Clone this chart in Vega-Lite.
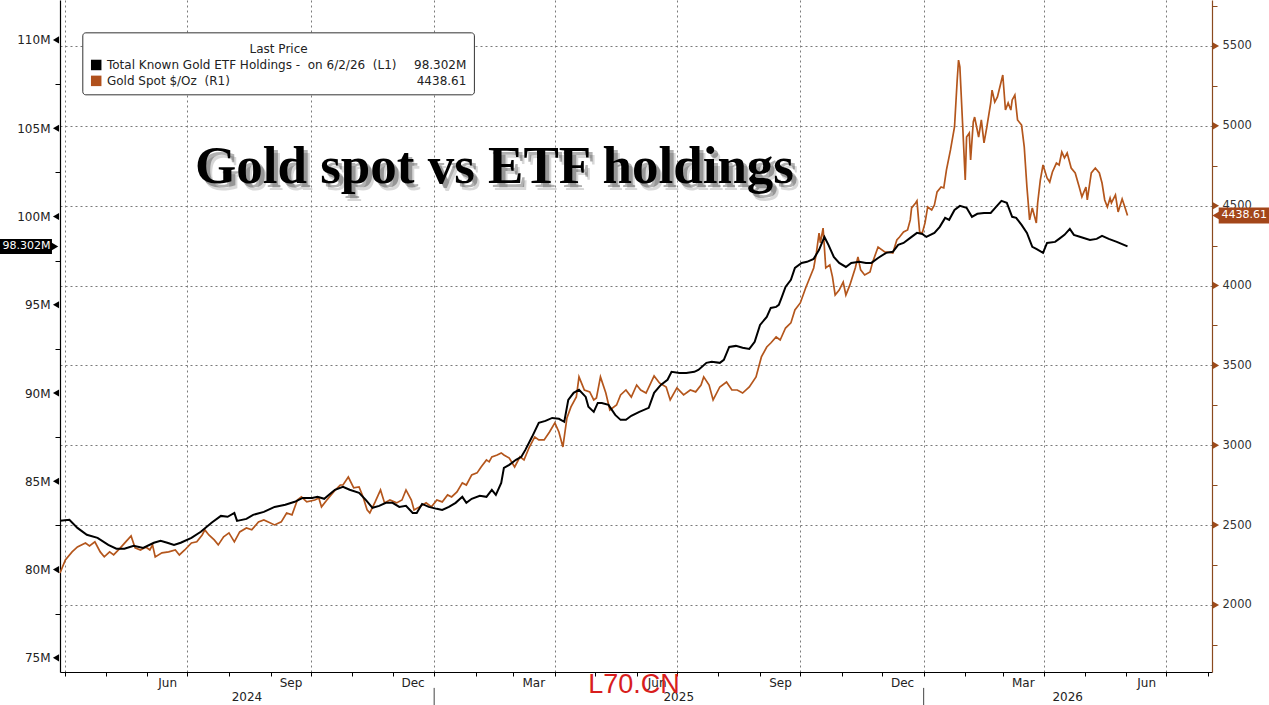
{
  "$schema": "https://vega.github.io/schema/vega-lite/v6.json",
  "width": 1152,
  "height": 672,
  "autosize": {"type": "none"},
  "padding": {"left": 60, "top": 0, "right": 57, "bottom": 33},
  "background": "white",
  "config": {"view": {"stroke": null}, "font": "DejaVu Sans", "axis": {"labelFont": "DejaVu Sans"}},
  "datasets": {
    "etf": [
      {"date":"2024-03-28","value":82.76},{"date":"2024-04-04","value":82.82},{"date":"2024-04-10","value":82.36},{"date":"2024-04-17","value":81.97},{"date":"2024-04-25","value":81.80},{"date":"2024-05-03","value":81.40},{"date":"2024-05-09","value":81.18},{"date":"2024-05-15","value":81.18},{"date":"2024-05-22","value":81.35},{"date":"2024-05-29","value":81.23},{"date":"2024-06-06","value":81.52},{"date":"2024-06-11","value":81.63},{"date":"2024-06-16","value":81.52},{"date":"2024-06-21","value":81.40},{"date":"2024-06-26","value":81.52},{"date":"2024-07-04","value":81.80},{"date":"2024-07-11","value":82.14},{"date":"2024-07-19","value":82.65},{"date":"2024-07-26","value":83.04},{"date":"2024-07-31","value":82.99},{"date":"2024-08-05","value":83.21},{"date":"2024-08-07","value":82.76},{"date":"2024-08-14","value":82.87},{"date":"2024-08-19","value":83.10},{"date":"2024-08-27","value":83.27},{"date":"2024-09-04","value":83.55},{"date":"2024-09-12","value":83.67},{"date":"2024-09-19","value":83.84},{"date":"2024-09-25","value":84.06},{"date":"2024-10-02","value":84.06},{"date":"2024-10-06","value":84.12},{"date":"2024-10-11","value":84.01},{"date":"2024-10-19","value":84.52},{"date":"2024-10-25","value":84.69},{"date":"2024-10-30","value":84.52},{"date":"2024-11-06","value":84.35},{"date":"2024-11-11","value":83.95},{"date":"2024-11-16","value":83.50},{"date":"2024-11-21","value":83.61},{"date":"2024-11-26","value":83.78},{"date":"2024-12-01","value":83.78},{"date":"2024-12-06","value":83.55},{"date":"2024-12-11","value":83.61},{"date":"2024-12-16","value":83.21},{"date":"2024-12-19","value":83.21},{"date":"2024-12-23","value":83.72},{"date":"2024-12-28","value":83.55},{"date":"2025-01-03","value":83.44},{"date":"2025-01-07","value":83.38},{"date":"2025-01-12","value":83.55},{"date":"2025-01-17","value":83.78},{"date":"2025-01-22","value":84.12},{"date":"2025-01-25","value":83.78},{"date":"2025-01-29","value":84.01},{"date":"2025-02-04","value":84.18},{"date":"2025-02-09","value":84.12},{"date":"2025-02-13","value":84.52},{"date":"2025-02-16","value":84.23},{"date":"2025-02-20","value":84.91},{"date":"2025-02-22","value":85.76},{"date":"2025-02-26","value":85.93},{"date":"2025-03-03","value":86.22},{"date":"2025-03-07","value":86.39},{"date":"2025-03-10","value":86.78},{"date":"2025-03-15","value":87.52},{"date":"2025-03-20","value":88.31},{"date":"2025-03-25","value":88.42},{"date":"2025-03-30","value":88.59},{"date":"2025-04-04","value":88.54},{"date":"2025-04-08","value":88.37},{"date":"2025-04-11","value":89.61},{"date":"2025-04-15","value":90.01},{"date":"2025-04-19","value":90.18},{"date":"2025-04-24","value":89.78},{"date":"2025-04-26","value":89.22},{"date":"2025-04-30","value":88.93},{"date":"2025-05-03","value":89.44},{"date":"2025-05-06","value":89.44},{"date":"2025-05-11","value":89.33},{"date":"2025-05-16","value":88.76},{"date":"2025-05-20","value":88.48},{"date":"2025-05-24","value":88.48},{"date":"2025-05-28","value":88.71},{"date":"2025-06-03","value":88.93},{"date":"2025-06-10","value":89.16},{"date":"2025-06-14","value":90.01},{"date":"2025-06-19","value":90.46},{"date":"2025-06-24","value":90.75},{"date":"2025-06-27","value":91.20},{"date":"2025-07-03","value":91.14},{"date":"2025-07-08","value":91.14},{"date":"2025-07-14","value":91.20},{"date":"2025-07-17","value":91.31},{"date":"2025-07-23","value":91.71},{"date":"2025-07-27","value":91.77},{"date":"2025-08-02","value":91.71},{"date":"2025-08-05","value":91.88},{"date":"2025-08-09","value":92.61},{"date":"2025-08-14","value":92.67},{"date":"2025-08-19","value":92.56},{"date":"2025-08-24","value":92.50},{"date":"2025-08-28","value":92.90},{"date":"2025-09-01","value":93.86},{"date":"2025-09-06","value":94.31},{"date":"2025-09-09","value":94.82},{"date":"2025-09-13","value":94.88},{"date":"2025-09-15","value":94.99},{"date":"2025-09-17","value":95.39},{"date":"2025-09-20","value":96.01},{"date":"2025-09-24","value":96.41},{"date":"2025-09-27","value":97.09},{"date":"2025-10-02","value":97.37},{"date":"2025-10-06","value":97.43},{"date":"2025-10-11","value":97.60},{"date":"2025-10-15","value":98.11},{"date":"2025-10-19","value":98.84},{"date":"2025-10-22","value":98.39},{"date":"2025-10-26","value":97.71},{"date":"2025-10-30","value":97.37},{"date":"2025-11-04","value":97.14},{"date":"2025-11-08","value":97.37},{"date":"2025-11-14","value":97.43},{"date":"2025-11-19","value":97.37},{"date":"2025-11-23","value":97.37},{"date":"2025-11-28","value":97.65},{"date":"2025-12-04","value":97.94},{"date":"2025-12-09","value":98.00},{"date":"2025-12-13","value":98.39},{"date":"2025-12-17","value":98.50},{"date":"2025-12-22","value":98.79},{"date":"2025-12-27","value":99.07},{"date":"2025-12-31","value":99.01},{"date":"2026-01-03","value":98.84},{"date":"2026-01-09","value":99.07},{"date":"2026-01-13","value":99.41},{"date":"2026-01-17","value":99.92},{"date":"2026-01-20","value":99.81},{"date":"2026-01-24","value":100.37},{"date":"2026-01-28","value":100.60},{"date":"2026-02-02","value":100.49},{"date":"2026-02-06","value":99.98},{"date":"2026-02-10","value":100.15},{"date":"2026-02-15","value":100.20},{"date":"2026-02-20","value":100.20},{"date":"2026-02-24","value":100.54},{"date":"2026-02-28","value":100.88},{"date":"2026-03-04","value":100.77},{"date":"2026-03-08","value":99.98},{"date":"2026-03-11","value":99.92},{"date":"2026-03-15","value":99.52},{"date":"2026-03-19","value":99.07},{"date":"2026-03-23","value":98.28},{"date":"2026-03-26","value":98.16},{"date":"2026-03-31","value":97.94},{"date":"2026-04-03","value":98.50},{"date":"2026-04-09","value":98.56},{"date":"2026-04-12","value":98.73},{"date":"2026-04-16","value":98.96},{"date":"2026-04-20","value":99.30},{"date":"2026-04-23","value":98.96},{"date":"2026-04-28","value":98.84},{"date":"2026-05-05","value":98.67},{"date":"2026-05-10","value":98.73},{"date":"2026-05-14","value":98.90},{"date":"2026-05-19","value":98.73},{"date":"2026-05-25","value":98.56},{"date":"2026-06-02","value":98.302}
    ],
    "gold": [
      {"date":"2024-03-28","value":2200},{"date":"2024-04-01","value":2282},{"date":"2024-04-06","value":2332},{"date":"2024-04-10","value":2363},{"date":"2024-04-16","value":2388},{"date":"2024-04-19","value":2370},{"date":"2024-04-23","value":2395},{"date":"2024-04-27","value":2332},{"date":"2024-04-30","value":2301},{"date":"2024-05-04","value":2332},{"date":"2024-05-07","value":2313},{"date":"2024-05-12","value":2357},{"date":"2024-05-16","value":2395},{"date":"2024-05-20","value":2432},{"date":"2024-05-23","value":2357},{"date":"2024-05-27","value":2344},{"date":"2024-05-31","value":2363},{"date":"2024-06-03","value":2344},{"date":"2024-06-05","value":2376},{"date":"2024-06-07","value":2301},{"date":"2024-06-12","value":2326},{"date":"2024-06-17","value":2332},{"date":"2024-06-22","value":2344},{"date":"2024-06-25","value":2313},{"date":"2024-06-29","value":2344},{"date":"2024-07-04","value":2388},{"date":"2024-07-08","value":2395},{"date":"2024-07-12","value":2438},{"date":"2024-07-14","value":2470},{"date":"2024-07-17","value":2438},{"date":"2024-07-21","value":2407},{"date":"2024-07-24","value":2376},{"date":"2024-07-28","value":2426},{"date":"2024-08-01","value":2451},{"date":"2024-08-05","value":2395},{"date":"2024-08-09","value":2457},{"date":"2024-08-14","value":2482},{"date":"2024-08-18","value":2470},{"date":"2024-08-23","value":2520},{"date":"2024-08-27","value":2532},{"date":"2024-09-04","value":2501},{"date":"2024-09-09","value":2520},{"date":"2024-09-13","value":2576},{"date":"2024-09-17","value":2564},{"date":"2024-09-21","value":2657},{"date":"2024-09-24","value":2676},{"date":"2024-09-28","value":2645},{"date":"2024-10-04","value":2657},{"date":"2024-10-07","value":2670},{"date":"2024-10-09","value":2614},{"date":"2024-10-13","value":2657},{"date":"2024-10-18","value":2708},{"date":"2024-10-23","value":2751},{"date":"2024-10-25","value":2751},{"date":"2024-10-29","value":2801},{"date":"2024-11-02","value":2733},{"date":"2024-11-06","value":2739},{"date":"2024-11-09","value":2676},{"date":"2024-11-12","value":2595},{"date":"2024-11-14","value":2576},{"date":"2024-11-18","value":2645},{"date":"2024-11-22","value":2720},{"date":"2024-11-25","value":2639},{"date":"2024-11-29","value":2657},{"date":"2024-12-04","value":2639},{"date":"2024-12-08","value":2657},{"date":"2024-12-11","value":2720},{"date":"2024-12-15","value":2657},{"date":"2024-12-17","value":2595},{"date":"2024-12-21","value":2614},{"date":"2024-12-26","value":2639},{"date":"2024-12-30","value":2614},{"date":"2025-01-03","value":2657},{"date":"2025-01-07","value":2645},{"date":"2025-01-11","value":2689},{"date":"2025-01-14","value":2676},{"date":"2025-01-18","value":2708},{"date":"2025-01-22","value":2764},{"date":"2025-01-25","value":2751},{"date":"2025-01-29","value":2814},{"date":"2025-02-02","value":2827},{"date":"2025-02-05","value":2864},{"date":"2025-02-09","value":2908},{"date":"2025-02-11","value":2896},{"date":"2025-02-13","value":2927},{"date":"2025-02-17","value":2939},{"date":"2025-02-20","value":2952},{"date":"2025-02-22","value":2939},{"date":"2025-02-26","value":2920},{"date":"2025-03-02","value":2864},{"date":"2025-03-06","value":2927},{"date":"2025-03-09","value":2908},{"date":"2025-03-13","value":2989},{"date":"2025-03-17","value":3052},{"date":"2025-03-20","value":3033},{"date":"2025-03-24","value":3033},{"date":"2025-03-28","value":3083},{"date":"2025-04-01","value":3140},{"date":"2025-04-04","value":3083},{"date":"2025-04-07","value":2989},{"date":"2025-04-10","value":3171},{"date":"2025-04-13","value":3240},{"date":"2025-04-17","value":3302},{"date":"2025-04-19","value":3428},{"date":"2025-04-23","value":3346},{"date":"2025-04-27","value":3334},{"date":"2025-04-30","value":3284},{"date":"2025-05-02","value":3296},{"date":"2025-05-05","value":3428},{"date":"2025-05-09","value":3327},{"date":"2025-05-12","value":3221},{"date":"2025-05-17","value":3252},{"date":"2025-05-20","value":3315},{"date":"2025-05-24","value":3346},{"date":"2025-05-28","value":3302},{"date":"2025-06-01","value":3377},{"date":"2025-06-04","value":3346},{"date":"2025-06-08","value":3327},{"date":"2025-06-14","value":3434},{"date":"2025-06-18","value":3390},{"date":"2025-06-23","value":3365},{"date":"2025-06-26","value":3284},{"date":"2025-07-01","value":3359},{"date":"2025-07-06","value":3315},{"date":"2025-07-11","value":3346},{"date":"2025-07-15","value":3334},{"date":"2025-07-19","value":3377},{"date":"2025-07-21","value":3428},{"date":"2025-07-25","value":3377},{"date":"2025-07-28","value":3284},{"date":"2025-08-02","value":3365},{"date":"2025-08-07","value":3396},{"date":"2025-08-11","value":3346},{"date":"2025-08-15","value":3346},{"date":"2025-08-19","value":3327},{"date":"2025-08-24","value":3365},{"date":"2025-08-29","value":3428},{"date":"2025-09-02","value":3553},{"date":"2025-09-06","value":3615},{"date":"2025-09-09","value":3640},{"date":"2025-09-13","value":3678},{"date":"2025-09-16","value":3659},{"date":"2025-09-20","value":3734},{"date":"2025-09-24","value":3766},{"date":"2025-09-27","value":3847},{"date":"2025-10-01","value":3891},{"date":"2025-10-05","value":3985},{"date":"2025-10-08","value":4047},{"date":"2025-10-11","value":4110},{"date":"2025-10-13","value":4204},{"date":"2025-10-15","value":4329},{"date":"2025-10-16","value":4267},{"date":"2025-10-18","value":4360},{"date":"2025-10-20","value":4110},{"date":"2025-10-23","value":4129},{"date":"2025-10-25","value":4054},{"date":"2025-10-27","value":3941},{"date":"2025-10-30","value":3972},{"date":"2025-11-02","value":4022},{"date":"2025-11-04","value":3941},{"date":"2025-11-07","value":4004},{"date":"2025-11-11","value":4110},{"date":"2025-11-13","value":4179},{"date":"2025-11-15","value":4098},{"date":"2025-11-18","value":4066},{"date":"2025-11-22","value":4085},{"date":"2025-11-24","value":4148},{"date":"2025-11-28","value":4241},{"date":"2025-12-03","value":4210},{"date":"2025-12-05","value":4210},{"date":"2025-12-09","value":4204},{"date":"2025-12-12","value":4285},{"date":"2025-12-14","value":4304},{"date":"2025-12-17","value":4335},{"date":"2025-12-20","value":4348},{"date":"2025-12-22","value":4411},{"date":"2025-12-23","value":4486},{"date":"2025-12-26","value":4517},{"date":"2025-12-27","value":4530},{"date":"2025-12-29","value":4335},{"date":"2025-12-31","value":4329},{"date":"2026-01-02","value":4392},{"date":"2026-01-04","value":4492},{"date":"2026-01-07","value":4473},{"date":"2026-01-09","value":4504},{"date":"2026-01-11","value":4586},{"date":"2026-01-14","value":4617},{"date":"2026-01-16","value":4611},{"date":"2026-01-18","value":4724},{"date":"2026-01-21","value":4849},{"date":"2026-01-24","value":4993},{"date":"2026-01-26","value":5287},{"date":"2026-01-27","value":5412},{"date":"2026-01-28","value":5369},{"date":"2026-01-30","value":5018},{"date":"2026-02-01","value":4661},{"date":"2026-02-02","value":4930},{"date":"2026-02-04","value":4955},{"date":"2026-02-05","value":4786},{"date":"2026-02-07","value":5024},{"date":"2026-02-08","value":5055},{"date":"2026-02-11","value":4930},{"date":"2026-02-13","value":5037},{"date":"2026-02-15","value":4893},{"date":"2026-02-17","value":4987},{"date":"2026-02-20","value":5143},{"date":"2026-02-21","value":5224},{"date":"2026-02-23","value":5149},{"date":"2026-02-25","value":5181},{"date":"2026-03-01","value":5318},{"date":"2026-03-03","value":5099},{"date":"2026-03-05","value":5143},{"date":"2026-03-07","value":5099},{"date":"2026-03-08","value":5162},{"date":"2026-03-10","value":5193},{"date":"2026-03-12","value":5037},{"date":"2026-03-15","value":5005},{"date":"2026-03-17","value":4868},{"date":"2026-03-19","value":4617},{"date":"2026-03-21","value":4411},{"date":"2026-03-23","value":4486},{"date":"2026-03-26","value":4392},{"date":"2026-03-27","value":4517},{"date":"2026-03-29","value":4661},{"date":"2026-03-31","value":4755},{"date":"2026-04-03","value":4674},{"date":"2026-04-05","value":4648},{"date":"2026-04-07","value":4711},{"date":"2026-04-10","value":4767},{"date":"2026-04-12","value":4755},{"date":"2026-04-14","value":4836},{"date":"2026-04-16","value":4799},{"date":"2026-04-18","value":4830},{"date":"2026-04-21","value":4736},{"date":"2026-04-24","value":4705},{"date":"2026-04-27","value":4617},{"date":"2026-04-29","value":4555},{"date":"2026-05-02","value":4617},{"date":"2026-05-03","value":4536},{"date":"2026-05-06","value":4705},{"date":"2026-05-09","value":4736},{"date":"2026-05-12","value":4705},{"date":"2026-05-14","value":4642},{"date":"2026-05-16","value":4536},{"date":"2026-05-18","value":4492},{"date":"2026-05-20","value":4548},{"date":"2026-05-21","value":4517},{"date":"2026-05-24","value":4567},{"date":"2026-05-26","value":4461},{"date":"2026-05-29","value":4542},{"date":"2026-05-31","value":4492},{"date":"2026-06-02","value":4438.61}
    ],
    "leftTicks": [
      {"date":"2024-03-25","value":75},{"date":"2024-03-25","value":80},{"date":"2024-03-25","value":85},{"date":"2024-03-25","value":90},{"date":"2024-03-25","value":95},{"date":"2024-03-25","value":100},{"date":"2024-03-25","value":105},{"date":"2024-03-25","value":110}
    ],
    "rightTicks": [
      {"date":"2026-08-07","value":2000},{"date":"2026-08-07","value":2500},{"date":"2026-08-07","value":3000},{"date":"2026-08-07","value":3500},{"date":"2026-08-07","value":4000},{"date":"2026-08-07","value":4500},{"date":"2026-08-07","value":5000},{"date":"2026-08-07","value":5500}
    ],
    "yearSep": [
      {"date":"2025-01-01","value":73.3,"value2":72.2},{"date":"2026-01-01","value":73.3,"value2":72.2}
    ],
    "titleText": [{"date":"2025-02-15","value":101.9,"label":"Gold spot vs ETF holdings"}],
    "legendBox": [{"date":"2024-04-14","date2":"2025-01-31","value":110.4,"value2":106.89}],
    "legendKeys": [
      {"date":"2024-04-24","value":108.58,"series":"Total Known Gold ETF Holdings"},
      {"date":"2024-04-24","value":107.68,"series":"Gold Spot $/Oz"}
    ],
    "legendHeader": [{"date":"2024-09-07","value":109.49,"label":"Last Price"}],
    "legendNames": [
      {"date":"2024-05-02","value":108.58,"label":"Total Known Gold ETF Holdings -\u00a0 on 6/2/26\u00a0 (L1)"},
      {"date":"2024-05-02","value":107.68,"label":"Gold Spot $/Oz\u00a0 (R1)"}
    ],
    "legendValues": [
      {"date":"2025-01-25","value":108.58,"label":"98.302M"},
      {"date":"2025-01-25","value":107.68,"label":"4438.61"}
    ],
    "leftBadge": [{"date":"2024-02-12","date2":"2024-03-22","value":98.73,"value2":97.88,"tip":"2024-03-24","mid":"2024-03-03","last":98.302,"label":"98.302M"}],
    "rightBadge": [{"date":"2026-08-09","date2":"2026-09-16","value":4489,"value2":4389,"tip":"2026-08-07","mid":"2026-08-28","last":4438.61,"label":"4438.61"}],
    "watermark": [{"date":"2025-05-30","value":73.02,"label":"L70.CN"}]
  },
  "encoding": {
    "x": {"field": "date", "type": "temporal", "axis": null,
      "scale": {"type": "utc", "domain": [{"year":2024,"month":3,"date":28,"utc":true},{"year":2026,"month":8,"date":4,"utc":true}]}}
  },
  "layer": [
    {
      "data": {"name": "gold"},
      "mark": {"type": "line", "color": "#B4561C", "strokeWidth": 1.7},
      "encoding": {
        "x": {"field": "date", "type": "temporal",
          "scale": {"type": "utc", "domain": [{"year":2024,"month":3,"date":28,"utc":true},{"year":2026,"month":8,"date":4,"utc":true}]},
          "axis": {"orient": "bottom", "title": null, "grid": true, "gridDash": [2, 3], "gridColor": "#7a7a7a", "gridWidth": 1,
            "labels": false, "ticks": false, "domain": false,
            "values": [{"year":2024,"month":4,"date":1,"utc":true},{"year":2024,"month":7,"date":1,"utc":true},{"year":2024,"month":10,"date":1,"utc":true},{"year":2025,"month":1,"date":1,"utc":true},{"year":2025,"month":4,"date":1,"utc":true},{"year":2025,"month":7,"date":1,"utc":true},{"year":2025,"month":10,"date":1,"utc":true},{"year":2026,"month":1,"date":1,"utc":true},{"year":2026,"month":4,"date":1,"utc":true},{"year":2026,"month":7,"date":1,"utc":true}]}},
        "y": {"field": "value", "type": "quantitative",
          "scale": {"domain": [1580, 5788], "nice": false, "zero": false},
          "axis": {"orient": "right", "title": null, "values": [2000, 2500, 3000, 3500, 4000, 4500, 5000, 5500], "format": "d",
            "grid": true, "gridDash": [2, 3], "gridColor": "#7a7a7a", "gridWidth": 1,
            "ticks": false, "labelPadding": 10, "labelFontSize": 11.5, "labelColor": "#333",
            "domainColor": "#8B4A1F", "domainWidth": 1.2}}
      }
    },
    {
      "data": {"name": "etf"},
      "mark": {"type": "line", "color": "#000000", "strokeWidth": 2},
      "encoding": {
        "x": {"field": "date", "type": "temporal",
          "scale": {"type": "utc", "domain": [{"year":2024,"month":3,"date":28,"utc":true},{"year":2026,"month":8,"date":4,"utc":true}]},
          "axis": {"orient": "bottom", "title": null, "grid": false,
            "values": [{"year":2024,"month":4,"date":1,"utc":true},{"year":2024,"month":5,"date":1,"utc":true},{"year":2024,"month":6,"date":1,"utc":true},{"year":2024,"month":7,"date":1,"utc":true},{"year":2024,"month":8,"date":1,"utc":true},{"year":2024,"month":9,"date":1,"utc":true},{"year":2024,"month":10,"date":1,"utc":true},{"year":2024,"month":11,"date":1,"utc":true},{"year":2024,"month":12,"date":1,"utc":true},{"year":2025,"month":1,"date":1,"utc":true},{"year":2025,"month":2,"date":1,"utc":true},{"year":2025,"month":3,"date":1,"utc":true},{"year":2025,"month":4,"date":1,"utc":true},{"year":2025,"month":5,"date":1,"utc":true},{"year":2025,"month":6,"date":1,"utc":true},{"year":2025,"month":7,"date":1,"utc":true},{"year":2025,"month":8,"date":1,"utc":true},{"year":2025,"month":9,"date":1,"utc":true},{"year":2025,"month":10,"date":1,"utc":true},{"year":2025,"month":11,"date":1,"utc":true},{"year":2025,"month":12,"date":1,"utc":true},{"year":2026,"month":1,"date":1,"utc":true},{"year":2026,"month":2,"date":1,"utc":true},{"year":2026,"month":3,"date":1,"utc":true},{"year":2026,"month":4,"date":1,"utc":true},{"year":2026,"month":5,"date":1,"utc":true},{"year":2026,"month":6,"date":1,"utc":true},{"year":2026,"month":7,"date":1,"utc":true},{"year":2026,"month":8,"date":1,"utc":true}],
            "labelExpr": "indexof([5, 8, 11, 2], utcmonth(datum.value)) >= 0 ? utcFormat(datum.value, '%b') : ''",
            "labelOffset": 20, "labelPadding": 1, "tickSize": 4, "tickColor": "#000", "tickWidth": 1,
            "labelOverlap": false, "labelBound": false, "labelFlush": false,
            "labelFontSize": 12, "labelColor": "#222", "domainColor": "#000", "domainWidth": 1.2}},
        "y": {"field": "value", "type": "quantitative",
          "scale": {"domain": [74.2, 112.26], "nice": false, "zero": false},
          "axis": {"orient": "left", "title": null, "grid": false, "values": [75, 80, 85, 90, 95, 100, 105, 110],
            "labelExpr": "datum.value + 'M'", "ticks": false, "labelPadding": 10,
            "labelFontSize": 12, "labelColor": "#222", "domainColor": "#000", "domainWidth": 1.2}}
      }
    },
    {
      "data": {"name": "leftTicks"},
      "mark": {"type": "point", "shape": "triangle-left", "filled": true, "color": "#000", "size": 50, "opacity": 1},
      "encoding": {
        "x": {"field": "date", "type": "temporal",
          "scale": {"type": "utc", "domain": [{"year":2024,"month":3,"date":28,"utc":true},{"year":2026,"month":8,"date":4,"utc":true}]},
          "axis": {"orient": "bottom", "title": null, "grid": false, "ticks": false, "domain": false,
            "values": [{"year":2024,"month":8,"date":14,"utc":true},{"year":2025,"month":7,"date":2,"utc":true},{"year":2026,"month":4,"date":18,"utc":true}],
            "labelExpr": "utcFormat(datum.value, '%Y')", "labelPadding": 19, "labelFontSize": 12, "labelColor": "#222",
            "labelOverlap": false, "labelBound": false, "labelFlush": false}},
        "y": {"field": "value", "type": "quantitative",
          "scale": {"domain": [74.2, 112.26], "nice": false, "zero": false},
          "axis": {"orient": "left", "title": null, "grid": false, "labels": false, "domain": false,
            "values": [77.5, 82.5, 87.5, 92.5, 97.5, 102.5, 107.5], "tickSize": 5, "tickColor": "#000", "tickWidth": 1}}
      }
    },
    {
      "data": {"name": "rightTicks"},
      "mark": {"type": "point", "shape": "triangle-right", "filled": true, "color": "#9C4A1A", "size": 50, "opacity": 1},
      "encoding": {
        "y": {"field": "value", "type": "quantitative",
          "scale": {"domain": [1580, 5788], "nice": false, "zero": false},
          "axis": {"orient": "right", "title": null, "grid": false, "labels": false, "domain": false,
            "values": [1750, 2250, 2750, 3250, 3750, 4250, 4750, 5250, 5750], "tickSize": 5, "tickColor": "#8B4A1F", "tickWidth": 1}}
      }
    },
    {
      "data": {"name": "yearSep"},
      "mark": {"type": "rule", "color": "#444", "strokeWidth": 1},
      "encoding": {
        "y": {"field": "value", "type": "quantitative", "axis": null, "scale": {"domain": [74.2, 112.26], "nice": false, "zero": false}},
        "y2": {"field": "value2"}
      }
    },
    {
      "data": {"name": "titleText"},
      "mark": {"type": "text", "font": "Liberation Serif", "fontWeight": "bold", "fontSize": 53, "align": "center", "baseline": "alphabetic", "color": "#000", "opacity": 0.15, "dx": 6, "dy": 7},
      "encoding": {
        "y": {"field": "value", "type": "quantitative", "axis": null, "scale": {"domain": [74.2, 112.26], "nice": false, "zero": false}},
        "text": {"field": "label"}
      }
    },
    {
      "data": {"name": "titleText"},
      "mark": {"type": "text", "font": "Liberation Serif", "fontWeight": "bold", "fontSize": 53, "align": "center", "baseline": "alphabetic", "color": "#000", "opacity": 0.3, "dx": 4, "dy": 4},
      "encoding": {
        "y": {"field": "value", "type": "quantitative", "axis": null, "scale": {"domain": [74.2, 112.26], "nice": false, "zero": false}},
        "text": {"field": "label"}
      }
    },
    {
      "data": {"name": "titleText"},
      "mark": {"type": "text", "font": "Liberation Serif", "fontWeight": "bold", "fontSize": 53, "align": "center", "baseline": "alphabetic", "color": "#000"},
      "encoding": {
        "y": {"field": "value", "type": "quantitative", "axis": null, "scale": {"domain": [74.2, 112.26], "nice": false, "zero": false}},
        "text": {"field": "label"}
      }
    },
    {
      "data": {"name": "legendBox"},
      "mark": {"type": "rect", "fill": "#ffffff", "stroke": "#333", "strokeWidth": 1, "cornerRadius": 3},
      "encoding": {
        "x2": {"field": "date2"},
        "y": {"field": "value", "type": "quantitative", "axis": null, "scale": {"domain": [74.2, 112.26], "nice": false, "zero": false}},
        "y2": {"field": "value2"}
      }
    },
    {
      "data": {"name": "legendKeys"},
      "mark": {"type": "point", "shape": "square", "filled": true, "size": 110, "opacity": 1},
      "encoding": {
        "y": {"field": "value", "type": "quantitative", "axis": null, "scale": {"domain": [74.2, 112.26], "nice": false, "zero": false}},
        "color": {"field": "series", "type": "nominal", "legend": null,
          "scale": {"domain": ["Total Known Gold ETF Holdings", "Gold Spot $/Oz"], "range": ["#000000", "#B0501C"]}}
      }
    },
    {
      "data": {"name": "legendHeader"},
      "mark": {"type": "text", "font": "DejaVu Sans", "fontSize": 12, "align": "center", "baseline": "middle", "color": "#222"},
      "encoding": {
        "y": {"field": "value", "type": "quantitative", "axis": null, "scale": {"domain": [74.2, 112.26], "nice": false, "zero": false}},
        "text": {"field": "label"}
      }
    },
    {
      "data": {"name": "legendNames"},
      "mark": {"type": "text", "font": "DejaVu Sans", "fontSize": 12, "align": "left", "baseline": "middle", "color": "#222"},
      "encoding": {
        "y": {"field": "value", "type": "quantitative", "axis": null, "scale": {"domain": [74.2, 112.26], "nice": false, "zero": false}},
        "text": {"field": "label"}
      }
    },
    {
      "data": {"name": "legendValues"},
      "mark": {"type": "text", "font": "DejaVu Sans", "fontSize": 12, "align": "right", "baseline": "middle", "color": "#222"},
      "encoding": {
        "y": {"field": "value", "type": "quantitative", "axis": null, "scale": {"domain": [74.2, 112.26], "nice": false, "zero": false}},
        "text": {"field": "label"}
      }
    },
    {
      "data": {"name": "leftBadge"},
      "mark": {"type": "rect", "fill": "#000000"},
      "encoding": {
        "x2": {"field": "date2"},
        "y": {"field": "value", "type": "quantitative", "axis": null, "scale": {"domain": [74.2, 112.26], "nice": false, "zero": false}},
        "y2": {"field": "value2"}
      }
    },
    {
      "data": {"name": "leftBadge"},
      "mark": {"type": "point", "shape": "triangle-right", "filled": true, "color": "#000", "size": 70, "opacity": 1},
      "encoding": {
        "x": {"field": "tip", "type": "temporal", "axis": null,
          "scale": {"type": "utc", "domain": [{"year":2024,"month":3,"date":28,"utc":true},{"year":2026,"month":8,"date":4,"utc":true}]}},
        "y": {"field": "last", "type": "quantitative", "axis": null, "scale": {"domain": [74.2, 112.26], "nice": false, "zero": false}}
      }
    },
    {
      "data": {"name": "leftBadge"},
      "mark": {"type": "text", "font": "DejaVu Sans", "fontSize": 11, "align": "center", "baseline": "middle", "color": "#ffffff"},
      "encoding": {
        "x": {"field": "mid", "type": "temporal", "axis": null,
          "scale": {"type": "utc", "domain": [{"year":2024,"month":3,"date":28,"utc":true},{"year":2026,"month":8,"date":4,"utc":true}]}},
        "y": {"field": "last", "type": "quantitative", "axis": null, "scale": {"domain": [74.2, 112.26], "nice": false, "zero": false}},
        "text": {"field": "label"}
      }
    },
    {
      "data": {"name": "rightBadge"},
      "mark": {"type": "rect", "fill": "#A3461A"},
      "encoding": {
        "x2": {"field": "date2"},
        "y": {"field": "value", "type": "quantitative", "axis": null, "scale": {"domain": [1580, 5788], "nice": false, "zero": false}},
        "y2": {"field": "value2"}
      }
    },
    {
      "data": {"name": "rightBadge"},
      "mark": {"type": "point", "shape": "triangle-left", "filled": true, "color": "#A3461A", "size": 70, "opacity": 1},
      "encoding": {
        "x": {"field": "tip", "type": "temporal", "axis": null,
          "scale": {"type": "utc", "domain": [{"year":2024,"month":3,"date":28,"utc":true},{"year":2026,"month":8,"date":4,"utc":true}]}},
        "y": {"field": "last", "type": "quantitative", "axis": null, "scale": {"domain": [1580, 5788], "nice": false, "zero": false}}
      }
    },
    {
      "data": {"name": "rightBadge"},
      "mark": {"type": "text", "font": "DejaVu Sans", "fontSize": 11, "align": "center", "baseline": "middle", "color": "#ffffff"},
      "encoding": {
        "x": {"field": "mid", "type": "temporal", "axis": null,
          "scale": {"type": "utc", "domain": [{"year":2024,"month":3,"date":28,"utc":true},{"year":2026,"month":8,"date":4,"utc":true}]}},
        "y": {"field": "last", "type": "quantitative", "axis": null, "scale": {"domain": [1580, 5788], "nice": false, "zero": false}},
        "text": {"field": "label"}
      }
    },
    {
      "data": {"name": "watermark"},
      "mark": {"type": "text", "font": "Liberation Sans", "fontSize": 27, "align": "center", "baseline": "alphabetic", "color": "#D81E1E"},
      "encoding": {
        "y": {"field": "value", "type": "quantitative", "axis": null, "scale": {"domain": [74.2, 112.26], "nice": false, "zero": false}},
        "text": {"field": "label"}
      }
    }
  ],
  "resolve": {"scale": {"y": "independent"}, "axis": {"x": "independent", "y": "independent"}}
}
